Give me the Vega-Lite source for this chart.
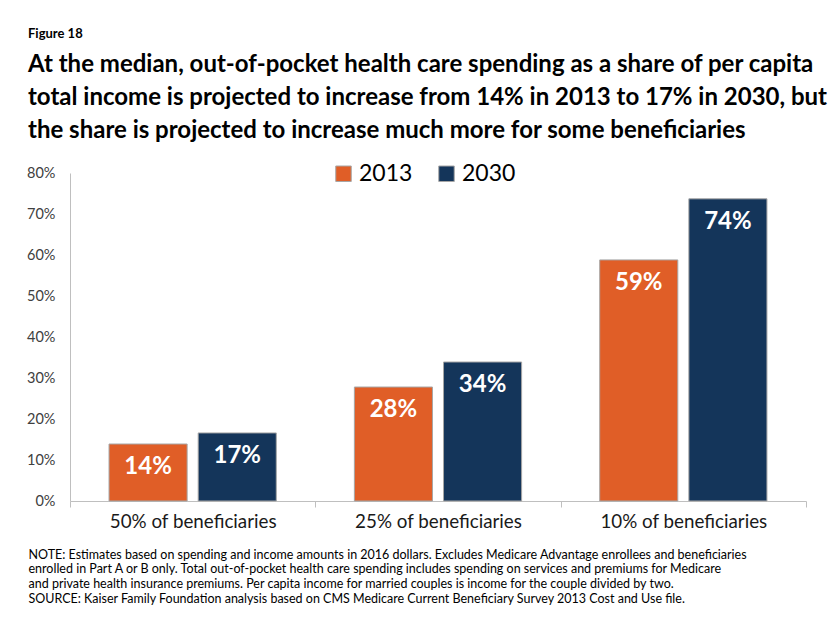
{
  "$schema": "https://vega.github.io/schema/vega-lite/v6.json",
  "autosize": "none",
  "width": 736,
  "height": 328,
  "padding": {"left": 70, "top": 173, "right": 24, "bottom": 116},
  "background": "white",
  "config": {"font": "Lato", "view": {"stroke": null}},
  "title": {
    "text": "Figure 18",
    "subtitle": [
      "At the median, out-of-pocket health care spending as a share of per capita",
      "total income is projected to increase from 14% in 2013 to 17% in 2030, but",
      "the share is projected to increase much more for some beneficiaries"
    ],
    "anchor": "start",
    "frame": "group",
    "dx": -42,
    "offset": 19,
    "fontSize": 13,
    "fontWeight": "bold",
    "color": "#000000",
    "subtitleFontSize": 24,
    "subtitleFontWeight": "bold",
    "subtitleColor": "#000000",
    "subtitleLineHeight": 33,
    "subtitlePadding": 12
  },
  "data": {
    "values": [
      {"group": "50% of beneficiaries", "year": "2013", "value": 0.139, "label": "14%"},
      {"group": "50% of beneficiaries", "year": "2030", "value": 0.166, "label": "17%"},
      {"group": "25% of beneficiaries", "year": "2013", "value": 0.278, "label": "28%"},
      {"group": "25% of beneficiaries", "year": "2030", "value": 0.339, "label": "34%"},
      {"group": "10% of beneficiaries", "year": "2013", "value": 0.588, "label": "59%"},
      {"group": "10% of beneficiaries", "year": "2030", "value": 0.737, "label": "74%"}
    ]
  },
  "encoding": {
    "x": {
      "field": "group",
      "type": "nominal",
      "sort": ["50% of beneficiaries", "25% of beneficiaries", "10% of beneficiaries"],
      "scale": {"paddingInner": 0, "paddingOuter": 0},
      "axis": {
        "labelAngle": 0,
        "labelFontSize": 18.8,
        "labelColor": "#1a1a1a",
        "labelPadding": 5,
        "domainColor": "#bfbfbf",
        "tickColor": "#bfbfbf",
        "tickSize": 6,
        "tickBand": "extent",
        "title": [
          "NOTE: Estimates based on spending and income amounts in 2016 dollars. Excludes Medicare Advantage enrollees and beneficiaries",
          "enrolled in Part A or B only. Total out-of-pocket health care spending includes spending on services and premiums for Medicare",
          "and private health insurance premiums. Per capita income for married couples is income for the couple divided by two.",
          "SOURCE: Kaiser Family Foundation analysis based on CMS Medicare Current Beneficiary Survey 2013 Cost and Use file."
        ],
        "titleX": -42,
        "titleY": 47,
        "titleAlign": "left",
        "titleAnchor": "start",
        "titleBaseline": "top",
        "titleFontSize": 12.5,
        "titleFontWeight": "normal",
        "titleColor": "#000000",
        "titleLineHeight": 14.8
      }
    },
    "xOffset": {
      "field": "year",
      "type": "nominal",
      "scale": {"paddingInner": 0.124, "paddingOuter": 0.438}
    },
    "y": {
      "field": "value",
      "type": "quantitative",
      "scale": {"domain": [0, 0.8]},
      "axis": {
        "values": [0, 0.1, 0.2, 0.3, 0.4, 0.5, 0.6, 0.7, 0.8],
        "format": ".0%",
        "title": null,
        "grid": false,
        "ticks": false,
        "labelFontSize": 14.5,
        "labelColor": "#404040",
        "labelPadding": 15,
        "domainColor": "#bfbfbf"
      }
    }
  },
  "layer": [
    {
      "mark": {"type": "bar", "stroke": "#a6a6a6", "strokeWidth": 1},
      "encoding": {
        "color": {
          "field": "year",
          "type": "nominal",
          "scale": {"domain": ["2013", "2030"], "range": ["#E05E27", "#14355A"]},
          "legend": {
            "title": null,
            "orient": "none",
            "legendX": 262,
            "legendY": -11,
            "direction": "horizontal",
            "symbolType": "square",
            "symbolSize": 240,
            "symbolStrokeColor": "#a6a6a6",
            "symbolStrokeWidth": 1,
            "labelFontSize": 23,
            "labelColor": "#000000",
            "columnPadding": 22,
            "labelOffset": 4
          }
        }
      }
    },
    {
      "mark": {"type": "text", "color": "white", "fontWeight": "bold", "fontSize": 24, "baseline": "middle", "dy": 23},
      "encoding": {"text": {"field": "label", "type": "nominal"}}
    }
  ]
}
